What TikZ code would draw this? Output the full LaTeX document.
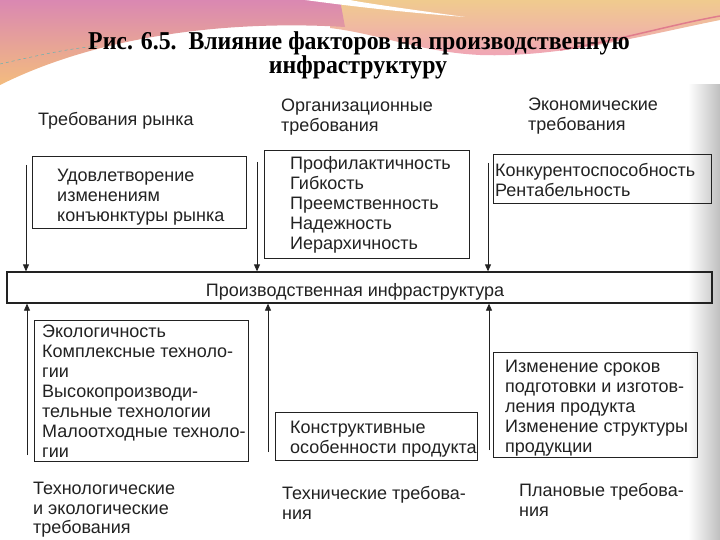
\documentclass[tikz,border=0pt]{standalone}
\usepackage{fontspec}
\setmainfont{Liberation Sans}
\newfontfamily\titlefont{Liberation Serif}
\usetikzlibrary{arrows.meta}
\definecolor{pinkA}{HTML}{DA88B2}
\definecolor{orangeA}{HTML}{F3BC7E}
\definecolor{peachB}{HTML}{F0CB8E}
\definecolor{pinkB}{HTML}{F0A4B8}
\definecolor{redline}{HTML}{E07C8C}
\definecolor{ink}{HTML}{222222}
\tikzset{
  frame/.style={draw=ink,line width=0.9pt,inner sep=0pt},
  lbl/.style={anchor=north west,inner sep=0pt,align=left,text=ink,font=\fontsize{18}{20}\selectfont},
  arr/.style={draw=ink,line width=0.8pt,-{Triangle[length=7pt,width=6pt]}},
  ttl/.style={anchor=base,inner sep=0pt,yscale=1.08,font=\titlefont\bfseries\fontsize{23.8}{26}\selectfont},
}
\begin{document}
\begin{tikzpicture}[x=1pt,y=-1pt]
\useasboundingbox (0,0) rectangle (720,540);
\fill[white] (0,0) rectangle (720,540);
% decorative background
\shade[top color=peachB,bottom color=pinkB] (330,0) -- (720,0) -- (720,20) .. controls (650,34) and (560,58) .. (480,55) .. controls (420,52) and (380,34) .. (330,28) -- cycle;
\shade[top color=pinkA,bottom color=orangeA] (0,0) -- (340,0) -- (345,27) .. controls (230,20) and (100,35) .. (0,85) -- cycle;
\fill[white] (305,0) .. controls (350,6) and (400,12) .. (465,17) .. controls (400,8) and (365,3) .. (350,0) -- cycle;
\draw[redline,line width=1.5pt] (560,50) .. controls (620,40) and (670,25) .. (720,16);
\draw[teal!60,dashed,line width=0.5pt] (0,64) .. controls (40,55) and (70,48) .. (100,46);
\shade[left color=white,right color=black!25] (688,85) rectangle (720,540);
% title
\node[ttl] (title1) at (359,50) {Рис. 6.5.\ \ Влияние факторов на производственную};
\node[ttl] (title2) at (358,74) {инфраструктуру};
% header labels
\node[lbl,anchor=base west] (h1) at (38,126) {Требования рынка};
\node[lbl] (h2) at (281,97) {\strut Организационные\\требования};
\node[lbl] (h3) at (528,96) {\strut Экономические\\требования};
% upper boxes
\node[frame,minimum width=214pt,minimum height=72pt] (b1) at (139,192) {};
\node[lbl] (t1) at (57,167) {\strut Удовлетворение\\изменениям\\конъюнктуры рынка};
\node[frame,minimum width=205pt,minimum height=108pt] (b2) at (366.5,204) {};
\node[lbl] (t2) at (290,155) {\strut Профилактичность\\Гибкость\\Преемственность\\Надежность\\Иерархичность};
\node[frame,minimum width=218pt,minimum height=49pt] (b3) at (602,178.5) {};
\node[lbl] (t3) at (495,162) {\strut Конкурентоспособность\\Рентабельность};
% main box
\node[frame,line width=1.3pt,minimum width=705pt,minimum height=31pt] (main) at (359.5,287.5) {};
\node[lbl,anchor=base] (mt) at (355,296) {Производственная инфраструктура};
% lower boxes
\node[frame,minimum width=214pt,minimum height=141pt] (b4) at (141,390.5) {};
\node[lbl] (t4) at (42,323) {\strut Экологичность\\Комплексные техноло-\\гии\\Высокопроизводи-\\тельные технологии\\Малоотходные техноло-\\гии};
\node[frame,minimum width=202pt,minimum height=48pt] (b5) at (376,436) {};
\node[lbl] (t5) at (290,419) {\strut Конструктивные\\особенности продукта};
\node[frame,minimum width=204pt,minimum height=105pt] (b6) at (595,404.5) {};
\node[lbl] (t6) at (505,358) {\strut Изменение сроков\\подготовки и изготов-\\ления продукта\\Изменение структуры\\продукции};
% bottom labels
\node[lbl,font=\fontsize{18}{19.5}\selectfont] (f1) at (33,481) {\strut Технологические\\и экологические\\требования};
\node[lbl] (f2) at (282,485) {\strut Технические требова-\\ния};
\node[lbl] (f3) at (519,482) {\strut Плановые требова-\\ния};
% arrows
\coordinate (d1) at (26,165);
\coordinate (d2) at (257,162);
\coordinate (d3) at (488,163);
\coordinate (u1) at (27,455);
\coordinate (u2) at (268,452);
\coordinate (u3) at (489,450);
\draw[arr] (d1) -- (d1 |- main.north);
\draw[arr] (d2) -- (d2 |- main.north);
\draw[arr] (d3) -- (d3 |- main.north);
\draw[arr] (u1) -- (u1 |- main.south);
\draw[arr] (u2) -- (u2 |- main.south);
\draw[arr] (u3) -- (u3 |- main.south);
\end{tikzpicture}
\end{document}
